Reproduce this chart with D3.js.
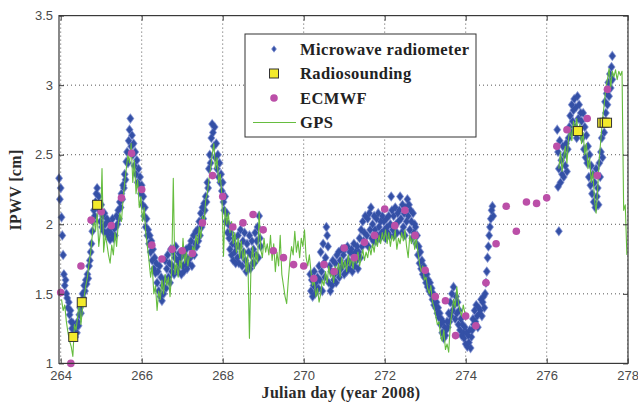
<!DOCTYPE html>
<html><head><meta charset="utf-8">
<script src="https://cdn.jsdelivr.net/npm/d3@7/dist/d3.min.js"></script>
<style>body{margin:0;background:#fff}svg{display:block}</style>
</head><body><svg id="c" width="638" height="404"></svg>
<script>
// ---------- data ----------
const xTicks = [264, 266, 268, 270, 272, 274, 276, 278];
const yTicks = [1, 1.5, 2, 2.5, 3, 3.5];
const xLabel = "Julian day (year 2008)";
const yLabel = "IPWV [cm]";
const seriesNames = ["Microwave radiometer", "Radiosounding", "ECMWF", "GPS"];

// Microwave radiometer: sample step (days) and segment start days
const mwrStep = 0.02;
const mwrStarts = [263.96, 270.16, 276.26];
const mwrSeg1 = [
 2.33,2.18,2.26,2.05,1.92,1.78,1.64,1.56,1.60,1.50,
 1.47,1.40,1.44,1.35,1.38,1.30,1.25,1.29,1.21,1.24,
 1.19,1.26,1.22,1.30,1.27,1.35,1.40,1.36,1.45,1.50,
 1.47,1.56,1.52,1.60,1.57,1.64,1.61,1.70,1.74,1.80,
 1.86,1.95,2.02,2.10,2.06,2.16,2.22,2.26,2.14,2.20,
 2.10,2.02,2.14,1.98,2.06,1.95,2.08,2.00,1.94,2.04,
 1.92,2.02,1.96,1.89,2.00,1.93,2.04,1.90,1.97,1.92,
 1.98,2.06,2.00,2.10,2.04,2.16,2.12,2.22,2.18,2.28,
 2.26,2.36,2.32,2.45,2.52,2.44,2.60,2.68,2.76,2.56,
 2.64,2.50,2.58,2.42,2.52,2.36,2.46,2.30,2.40,2.28,
 2.34,2.22,2.28,2.14,2.20,2.06,2.12,1.98,2.04,1.92,
 1.96,1.86,1.92,1.80,1.88,1.74,1.82,1.68,1.76,1.65,
 1.72,1.58,1.66,1.52,1.70,1.48,1.62,1.45,1.56,1.50,
 1.60,1.74,1.54,1.68,1.78,1.62,1.72,1.58,1.82,1.66,
 1.70,1.80,1.64,1.76,1.84,1.68,1.74,1.66,1.79,1.71,
 1.76,1.64,1.80,1.70,1.66,1.78,1.72,1.82,1.68,1.75,
 1.72,1.84,1.76,1.88,1.70,1.82,1.92,1.78,1.86,1.95,
 1.84,1.96,1.88,2.02,1.92,2.08,1.98,2.12,2.04,2.15,
 2.10,2.20,2.16,2.30,2.26,2.40,2.50,2.44,2.62,2.72,
 2.66,2.56,2.70,2.48,2.58,2.40,2.50,2.34,2.44,2.30,
 2.36,2.24,2.30,2.16,2.10,2.20,2.02,2.08,1.94,2.00,
 1.90,1.82,1.94,1.78,1.86,1.74,1.90,1.80,1.72,1.84,
 1.76,1.92,1.72,1.84,1.96,1.78,1.70,1.88,1.80,1.94,
 1.74,1.66,1.86,1.70,1.80,1.92,1.68,1.78,1.88,1.72,
 1.82,1.72,1.94,1.78,1.88,1.98,1.76,2.06,1.90,1.84
];
const mwrSeg2 = [
 1.64,1.52,1.60,1.48,1.56,1.66,1.50,1.58,1.53,1.62,
 1.54,1.70,1.60,1.80,1.66,1.52,1.86,1.72,1.62,1.76,
 1.98,1.92,1.84,1.58,1.70,1.52,1.66,1.56,1.74,1.60,
 1.64,1.72,1.58,1.78,1.66,1.80,1.62,1.74,1.68,1.82,
 1.70,1.78,1.64,1.82,1.72,1.66,1.84,1.74,1.68,1.80,
 1.72,1.82,1.66,1.78,1.86,1.70,1.80,1.74,1.84,1.68,
 1.80,1.90,1.76,1.96,1.84,2.02,1.88,1.94,2.06,1.86,
 1.92,2.04,1.84,2.08,1.96,2.12,1.90,2.00,1.88,2.06,
 1.96,1.88,2.04,1.92,2.08,1.98,1.90,2.02,1.94,2.06,
 1.92,2.02,1.96,1.90,2.04,1.98,1.94,2.06,1.92,2.00,
 2.20,2.10,1.96,2.06,1.92,2.12,2.00,1.94,2.08,2.02,
 2.10,2.20,2.04,1.94,2.14,1.98,2.08,1.92,2.12,2.02,
 2.18,2.06,2.14,1.96,2.10,2.02,1.90,2.08,1.94,2.00,
 1.98,1.86,1.92,1.78,1.84,1.72,1.80,1.68,1.74,1.64,
 1.70,1.62,1.66,1.58,1.64,1.55,1.60,1.52,1.58,1.50,
 1.54,1.46,1.50,1.42,1.48,1.40,1.44,1.36,1.40,1.33,
 1.36,1.28,1.32,1.22,1.30,1.18,1.26,1.20,1.24,1.30,
 1.26,1.36,1.30,1.44,1.34,1.50,1.38,1.55,1.42,1.32,
 1.48,1.36,1.44,1.28,1.38,1.24,1.32,1.20,1.28,1.22,
 1.18,1.26,1.14,1.22,1.12,1.20,1.15,1.24,1.11,1.19,
 1.24,1.32,1.28,1.38,1.30,1.42,1.34,1.26,1.40,1.36,
 1.38,1.46,1.34,1.44,1.48,1.40,1.50,1.58,1.66,1.76,
 1.84,1.92,1.98,2.04,2.10,2.13,2.06
];
const mwrSeg3 = [
 2.68,2.52,2.40,2.60,2.30,2.46,2.36,2.56,2.34,2.50,
 2.42,2.58,2.38,2.54,2.62,2.70,2.78,2.66,2.86,2.74,
 2.82,2.90,2.70,2.84,2.62,2.92,2.76,2.86,2.68,2.80,
 2.74,2.62,2.80,2.54,2.70,2.48,2.64,2.44,2.56,2.34,
 2.50,2.28,2.42,2.22,2.36,2.16,2.30,2.12,2.40,2.20,
 2.26,2.14,2.44,2.34,2.52,2.62,2.48,2.74,2.66,2.88,
 2.80,2.94,2.86,3.02,2.92,3.08,2.98,3.13,3.04
];
const mwrExtraDays   = [276.28, 276.30, 277.62];
const mwrExtraValues = [2.27, 1.95, 3.21];

// Radiosounding
const sondeDays   = [264.31, 264.52, 264.90, 276.77, 277.37, 277.43, 277.49];
const sondeValues = [1.19, 1.44, 2.14, 2.67, 2.73, 2.73, 2.73];

// ECMWF (6-hourly)
const ecmwfDays = [264.00,264.25,264.50,264.75,265.00,265.25,265.50,265.75,266.00,266.25,266.50,266.75,
 267.00,267.25,267.50,267.75,268.00,268.25,268.50,268.75,269.00,269.25,269.50,269.75,
 270.00,270.25,270.50,270.75,271.00,271.25,271.50,271.75,272.00,272.25,272.50,272.75,
 273.00,273.25,273.50,273.75,274.00,274.25,274.50,274.75,275.00,275.25,275.50,275.75,
 276.00,276.25,276.50,276.75,277.00,277.25,277.50];
const ecmwfValues = [1.51,1.00,1.70,2.03,2.09,1.99,2.19,2.51,2.25,1.85,1.75,1.82,
 1.81,1.79,2.01,2.35,2.20,1.98,2.01,2.07,1.96,1.81,1.76,1.71,
 1.70,1.61,1.71,1.66,1.83,1.76,1.87,1.92,2.11,1.99,2.10,1.92,
 1.67,1.48,1.45,1.20,1.34,1.27,1.58,1.86,2.13,1.95,2.16,2.15,
 2.19,2.56,2.68,2.68,2.76,2.35,2.97];

// GPS: sample step and segment starts
const gpsStep = 0.04;
const gpsStarts = [264.02, 276.30];
const gpsSeg1 = [
 1.46,1.38,1.42,1.30,1.22,1.16,1.12,1.05,1.28,1.24,
 1.34,1.45,1.28,1.40,1.48,1.56,1.62,1.72,1.80,1.92,
 2.05,1.95,2.08,1.84,1.95,2.40,1.80,1.92,1.86,1.78,
 1.72,1.85,1.78,1.94,1.84,2.00,2.08,2.02,2.18,2.30,
 2.40,2.50,2.44,2.58,2.30,2.46,2.22,2.32,2.12,2.20,
 2.02,2.12,1.94,1.84,1.74,1.62,1.70,1.50,1.56,1.38,
 1.52,1.46,1.60,1.50,1.64,1.56,1.62,1.48,1.66,2.33,
 1.64,1.72,1.62,1.74,1.68,1.90,1.72,1.80,1.70,1.78,
 1.76,1.84,1.80,1.92,1.86,1.98,1.90,2.06,2.00,2.18,
 2.22,2.32,2.40,2.50,2.58,2.40,2.48,2.30,2.36,2.20,
 1.77,2.12,2.00,2.08,1.94,2.02,1.86,1.94,1.80,1.90,
 1.76,1.88,1.74,1.82,1.66,1.78,1.18,1.72,1.84,1.68,
 1.80,1.72,2.09,1.82,1.76,1.90,1.80,1.86,1.78,1.92,
 1.74,1.86,1.66,1.80,1.70,1.92,1.64,1.56,1.48,1.43,
 1.60,1.74,1.84,1.78,1.95,1.80,1.88,1.76,1.90,1.84,
 1.96,1.76,1.70,1.78,1.66,1.56,1.60,1.48,1.54,1.44,
 1.50,1.60,1.56,1.66,1.58,1.70,1.62,1.66,1.58,1.70,
 1.64,1.72,1.62,1.76,1.68,1.74,1.66,1.78,1.70,1.76,
 1.68,1.78,1.72,1.80,1.70,1.76,1.82,1.74,1.80,1.76,
 1.84,1.78,1.86,1.80,1.90,1.84,1.92,1.86,1.94,1.88,
 1.96,1.86,1.94,1.84,1.92,1.88,1.96,1.82,1.90,1.86,
 1.94,1.88,1.96,1.84,1.76,1.92,1.86,1.94,1.82,1.90,
 1.80,1.72,1.66,1.70,1.60,1.62,1.54,1.50,1.56,1.44,
 1.40,1.34,1.28,1.30,1.20,1.16,1.24,1.10,1.14,1.08,
 1.28,1.36,1.46,1.40,1.55,1.44,1.38,1.34,1.42,1.36
];
const gpsSeg2 = [
 2.40,2.52,2.38,2.48,2.56,2.44,2.62,2.70,2.60,2.74,
 2.66,2.76,2.64,2.72,2.58,2.66,2.50,2.58,2.40,2.48,
 2.30,2.38,2.18,2.08,2.26,2.48,2.62,2.76,2.86,2.98,
 3.04,3.12,2.98,3.10,3.06,3.11,3.04,3.10,3.07,3.10,
 2.10,2.14,1.78
];

// ---------- drawing ----------
const svg = d3.select("#c");
const L = 59, R = 628, T = 15.6, B = 363.4;
const x = d3.scaleLinear().domain([264, 278]).range([60.7, 627.7]);
const y = d3.scaleLinear().domain([1, 3.5]).range([B, T]);

const toPts = (start, step, vals) => vals.map((v, i) => [start + i * step, v]);
const mwr = [
  ...toPts(mwrStarts[0], mwrStep, mwrSeg1),
  ...toPts(mwrStarts[1], mwrStep, mwrSeg2),
  ...toPts(mwrStarts[2], mwrStep, mwrSeg3),
  ...mwrExtraDays.map((d, i) => [d, mwrExtraValues[i]])
];
const gps = [toPts(gpsStarts[0], gpsStep, gpsSeg1), toPts(gpsStarts[1], gpsStep, gpsSeg2)];
const ecmwf = ecmwfDays.map((d, i) => [d, ecmwfValues[i]]);
const sonde = sondeDays.map((d, i) => [d, sondeValues[i]]);

// grid
const grid = svg.append("g").attr("stroke", "#444").attr("stroke-width", 0.9)
  .attr("stroke-dasharray", "1,3");
grid.selectAll(".gx").data(xTicks).join("line")
  .attr("x1", d => x(d)).attr("x2", d => x(d)).attr("y1", T).attr("y2", B);
grid.selectAll(".gy").data(yTicks.filter(v => v > 1 && v < 3.5)).join("line")
  .attr("x1", L).attr("x2", R).attr("y1", d => y(d)).attr("y2", d => y(d));

// radiometer
const COL_BLUE = "#3450a6";
const DIAMOND = "M0,-4L3,0L0,4L-3,0Z";
const mg = svg.append("g");
mg.selectAll("path.h").data(mwr).join("path").attr("class", "h")
  .attr("transform", d => `translate(${x(d[0]).toFixed(2)},${y(d[1]).toFixed(2)})`)
  .attr("d", DIAMOND).attr("fill", "none").attr("stroke", "#8796d2").attr("stroke-width", 1.6);
mg.selectAll("path.m").data(mwr).join("path").attr("class", "m")
  .attr("transform", d => `translate(${x(d[0]).toFixed(2)},${y(d[1]).toFixed(2)})`)
  .attr("d", DIAMOND).attr("fill", COL_BLUE);

// GPS
const line = d3.line().x(d => x(d[0])).y(d => y(d[1]));
svg.append("g").selectAll("path").data(gps).join("path")
  .attr("d", line).attr("fill", "none").attr("stroke", "#66bd3f").attr("stroke-width", 1.1)
  .attr("stroke-linejoin", "round");

// ECMWF
svg.append("g").selectAll("circle").data(ecmwf).join("circle")
  .attr("cx", d => x(d[0])).attr("cy", d => y(d[1])).attr("r", 3.8)
  .attr("fill", "#bb4fa8");

// Radiosounding
svg.append("g").selectAll("rect").data(sonde).join("rect")
  .attr("x", d => x(d[0]) - 4.5).attr("y", d => y(d[1]) - 4.5)
  .attr("width", 9).attr("height", 9)
  .attr("fill", "#f3ea2c").attr("stroke", "#333").attr("stroke-width", 1);

// frame
svg.append("rect").attr("x", L).attr("y", T).attr("width", R - L).attr("height", B - T)
  .attr("fill", "none").attr("stroke", "#3a3a3a").attr("stroke-width", 1.2);

// axes (ticks inward)
const axB = svg.append("g").attr("transform", `translate(0,${B})`)
  .call(d3.axisBottom(x).tickValues(xTicks).tickSize(-5).tickPadding(7).tickFormat(d3.format("d")));
const axT = svg.append("g").attr("transform", `translate(0,${T})`)
  .call(d3.axisTop(x).tickValues(xTicks).tickSize(-5).tickFormat(""));
const axL = svg.append("g").attr("transform", `translate(${L},0)`)
  .call(d3.axisLeft(y).tickValues(yTicks).tickSize(-5).tickPadding(6).tickFormat(d => d3.format("")(d)));
const axR = svg.append("g").attr("transform", `translate(${R},0)`)
  .call(d3.axisRight(y).tickValues(yTicks).tickSize(-5).tickFormat(""));
[axB, axT, axL, axR].forEach(a => {
  a.select(".domain").remove();
  a.selectAll("line").attr("stroke", "#3a3a3a");
  a.selectAll("text").attr("fill", "#4a4a4a")
    .style("font-family", "'Liberation Sans', Arial, sans-serif").style("font-size", "13px");
});

// axis labels
svg.append("text").attr("x", 341).attr("y", 398).attr("text-anchor", "middle")
  .style("font-family", "'Liberation Serif', serif").style("font-weight", "bold")
  .style("font-size", "16px").style("letter-spacing", "0.3px").attr("fill", "#2a2a2a").text(xLabel);
svg.append("text").attr("transform", "translate(21,190) rotate(-90)").attr("text-anchor", "middle")
  .style("font-family", "'Liberation Serif', serif").style("font-weight", "bold")
  .style("font-size", "16px").style("letter-spacing", "0.3px").attr("fill", "#2a2a2a").text(yLabel);

// legend
const lg = svg.append("g");
lg.append("rect").attr("x", 245).attr("y", 34).attr("width", 231).attr("height", 103)
  .attr("fill", "#fff").attr("stroke", "#333").attr("stroke-width", 1);
const rowsY = [49, 73.5, 98, 122.5];
lg.append("path").attr("transform", `translate(274,${rowsY[0]})`)
  .attr("d", "M0,-3.2L2.4,0L0,3.2L-2.4,0Z").attr("fill", COL_BLUE).attr("stroke", "#8796d2").attr("stroke-width", 0.8);
lg.append("rect").attr("x", 269.5).attr("y", rowsY[1] - 4.5).attr("width", 9).attr("height", 9)
  .attr("fill", "#f3ea2c").attr("stroke", "#333");
lg.append("circle").attr("cx", 274).attr("cy", rowsY[2]).attr("r", 3.8).attr("fill", "#bb4fa8");
lg.append("line").attr("x1", 253).attr("x2", 296).attr("y1", rowsY[3]).attr("y2", rowsY[3])
  .attr("stroke", "#66bd3f").attr("stroke-width", 1.1);
lg.selectAll("text.lab").data(seriesNames).join("text").attr("class", "lab")
  .attr("x", 300).attr("y", (d, i) => rowsY[i] + 5.8)
  .style("font-family", "'Liberation Serif', serif").style("font-weight", "bold")
  .style("font-size", "16.5px").style("letter-spacing", "0.4px").attr("fill", "#222").text(d => d);
</script></body></html>
